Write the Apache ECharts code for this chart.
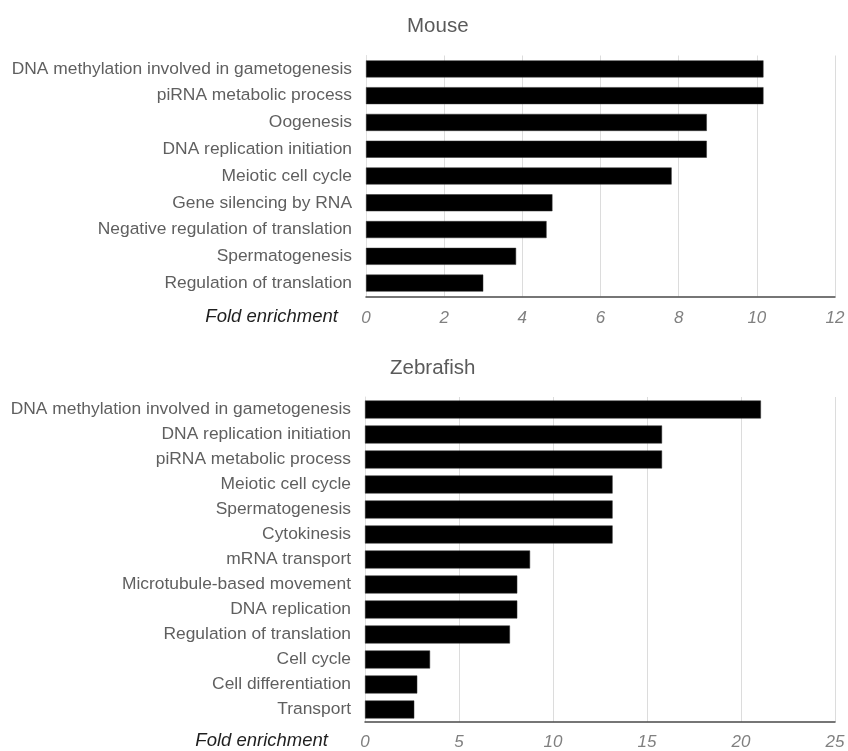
<!DOCTYPE html>
<html>
<head>
<meta charset="utf-8">
<script src="https://cdn.jsdelivr.net/npm/echarts@6/dist/echarts.min.js"></script>
<style>
html,body{margin:0;padding:0;background:#fff;}
#chart{width:848px;height:751px;}
</style>
</head>
<body>
<div id="chart"></div>
<script>
const mouseCategories = [
  'DNA methylation involved in gametogenesis',
  'piRNA metabolic process',
  'Oogenesis',
  'DNA replication initiation',
  'Meiotic cell cycle',
  'Gene silencing by RNA',
  'Negative regulation of translation',
  'Spermatogenesis',
  'Regulation of translation'
];
const mouseValues = [10.17, 10.17, 8.72, 8.72, 7.82, 4.77, 4.62, 3.84, 3.0];

const zebrafishCategories = [
  'DNA methylation involved in gametogenesis',
  'DNA replication initiation',
  'piRNA metabolic process',
  'Meiotic cell cycle',
  'Spermatogenesis',
  'Cytokinesis',
  'mRNA transport',
  'Microtubule-based movement',
  'DNA replication',
  'Regulation of translation',
  'Cell cycle',
  'Cell differentiation',
  'Transport'
];
const zebrafishValues = [21.06, 15.8, 15.8, 13.17, 13.17, 13.17, 8.78, 8.1, 8.1, 7.71, 3.46, 2.78, 2.62];

const mouseTicks = {min: 0, max: 12, interval: 2};
const zebrafishTicks = {min: 0, max: 25, interval: 5};

const FONT = 'Liberation Sans, Arial, sans-serif';

function yAxisCfg(gridIndex, cats) {
  return {
    type: 'category', gridIndex: gridIndex, data: cats, inverse: true,
    axisLine: {show: true, lineStyle: {color: '#e0e0e0', width: 1}},
    axisTick: {show: false},
    axisLabel: {color: '#5f5f5f', fontSize: 17.4, fontFamily: FONT, margin: 14}
  };
}
function xAxisCfg(gridIndex, t, margin) {
  return {
    type: 'value', gridIndex: gridIndex, min: t.min, max: t.max, interval: t.interval,
    axisLine: {show: true, lineStyle: {color: '#4a4a4a', width: 1.5}},
    axisTick: {show: false},
    splitLine: {show: true, lineStyle: {color: '#dcdcdc', width: 1}},
    axisLabel: {color: '#808080', fontSize: 17, fontStyle: 'italic', fontFamily: FONT, margin: margin}
  };
}

const chart = echarts.init(document.getElementById('chart'), null, {renderer: 'canvas'});
chart.setOption({
  backgroundColor: '#ffffff',
  animation: false,
  title: [
    {text: 'Mouse', left: 402, top: 11, textStyle: {color: '#5a5a5a', fontSize: 20.5, fontWeight: 'normal', fontFamily: FONT}},
    {text: 'Zebrafish', left: 385, top: 353, textStyle: {color: '#5a5a5a', fontSize: 20.5, fontWeight: 'normal', fontFamily: FONT}}
  ],
  grid: [
    {left: 366, right: 13, top: 55.5, height: 241},
    {left: 365, right: 13, top: 397, height: 325}
  ],
  xAxis: [xAxisCfg(0, mouseTicks, 13), xAxisCfg(1, zebrafishTicks, 12)],
  yAxis: [yAxisCfg(0, mouseCategories), yAxisCfg(1, zebrafishCategories)],
  series: [
    {type: 'bar', xAxisIndex: 0, yAxisIndex: 0, data: mouseValues, barWidth: 17,
     itemStyle: {color: '#000000', borderColor: '#333', borderWidth: 0.5}},
    {type: 'bar', xAxisIndex: 1, yAxisIndex: 1, data: zebrafishValues, barWidth: 18,
     itemStyle: {color: '#000000', borderColor: '#333', borderWidth: 0.5}}
  ],
  graphic: [
    {type: 'text', right: 848 - 338, top: 307,
     style: {text: 'Fold enrichment', fill: '#1f1f1f', font: 'italic 18.5px ' + FONT}},
    {type: 'text', right: 848 - 328, top: 731,
     style: {text: 'Fold enrichment', fill: '#1f1f1f', font: 'italic 18.5px ' + FONT}}
  ]
});
</script>
</body>
</html>
